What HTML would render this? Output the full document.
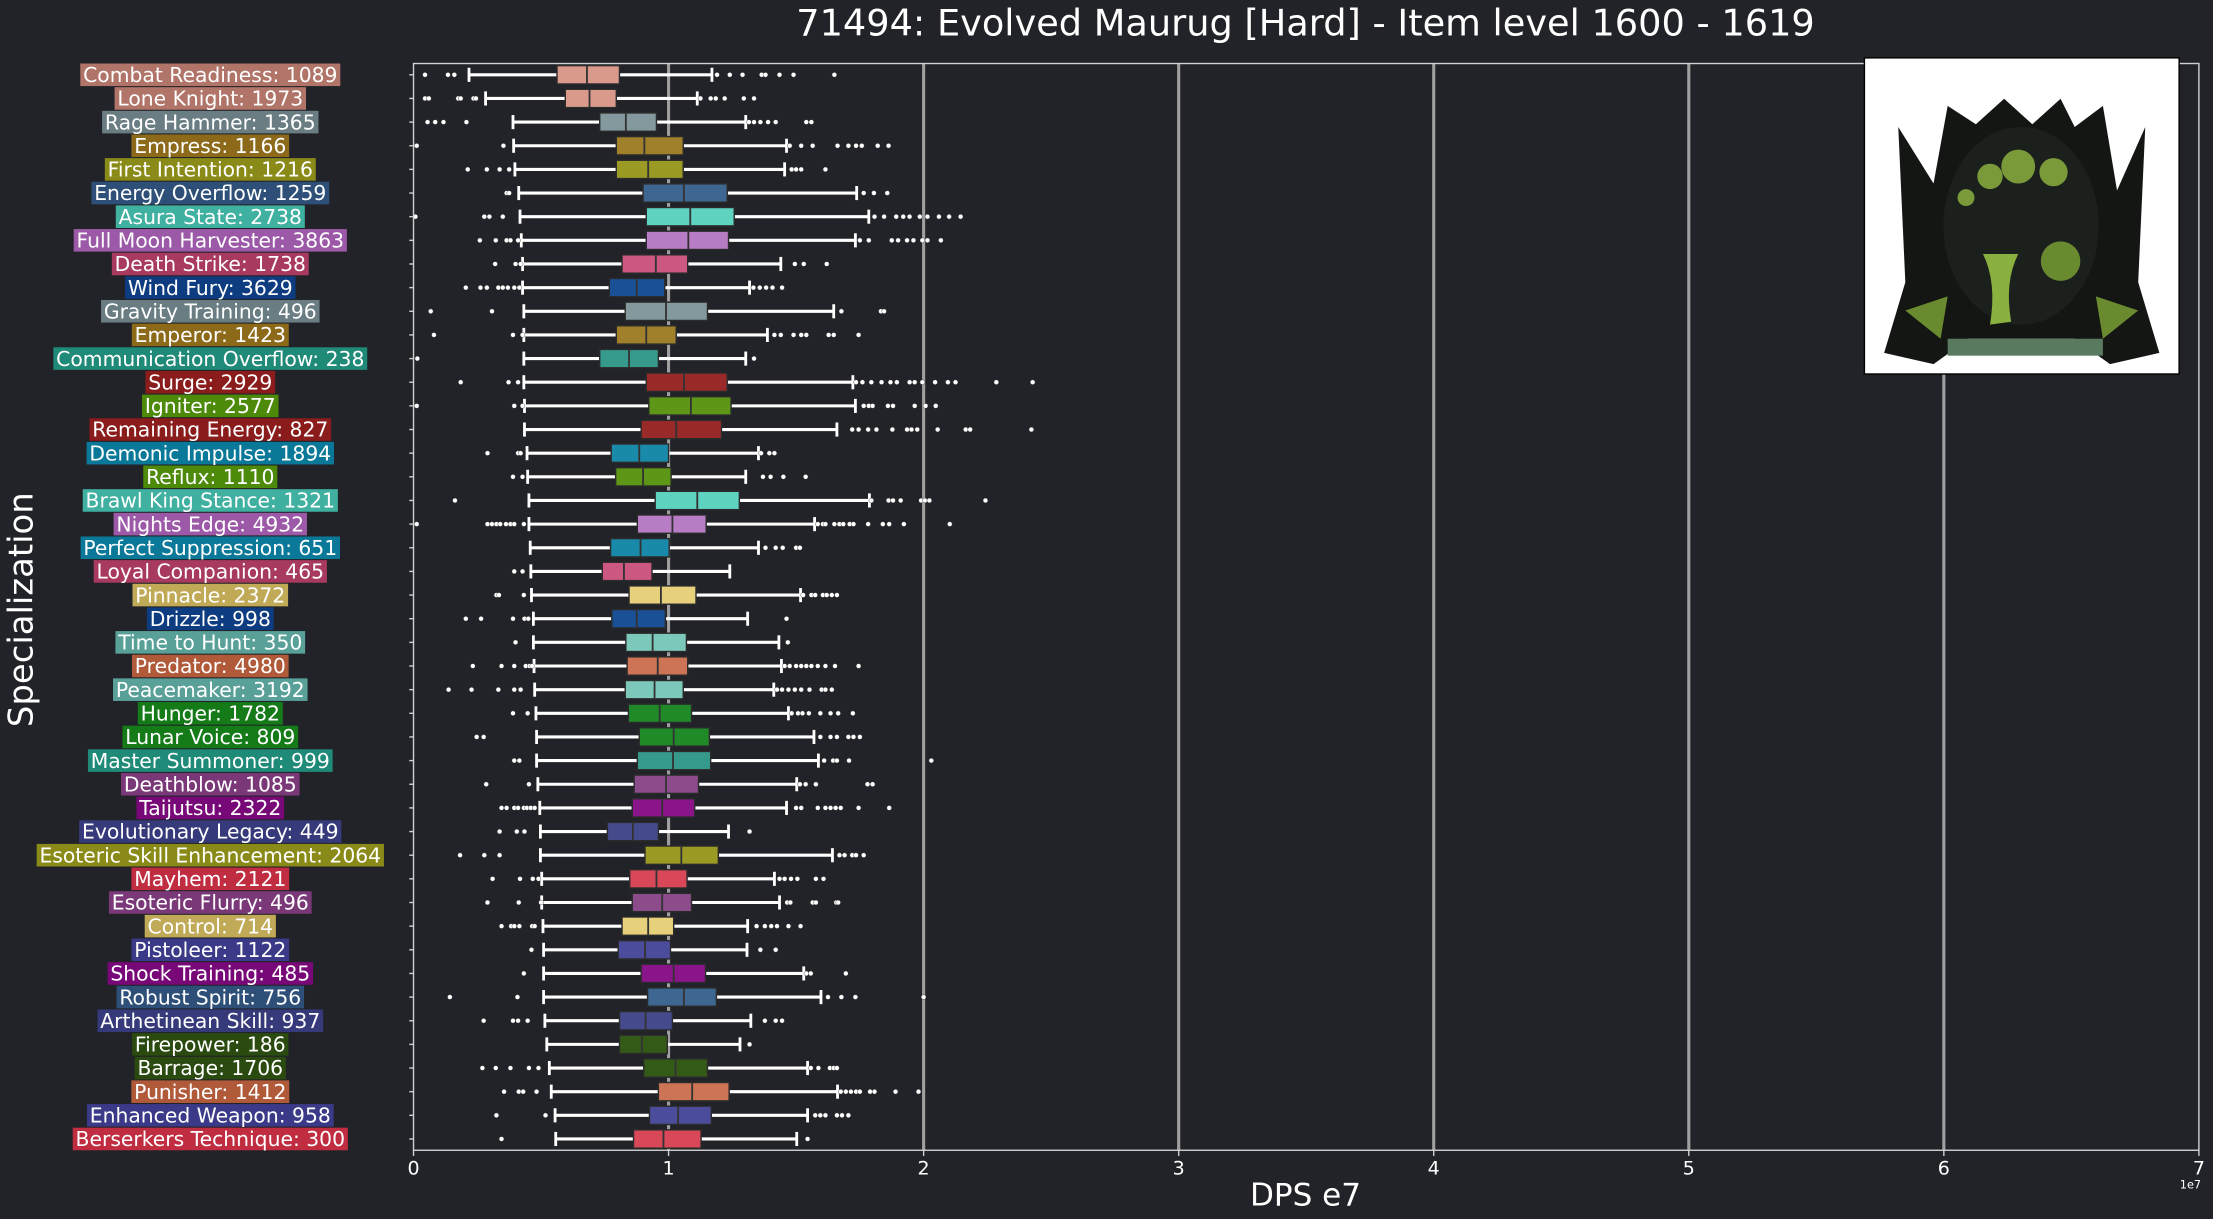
<!DOCTYPE html>
<html><head><meta charset="utf-8"><style>
html,body{margin:0;padding:0;background:#212328;}
svg{display:block}
</style></head><body>
<svg id="chart" width="2213" height="1219" viewBox="0 0 1568 863.7" preserveAspectRatio="none" xmlns="http://www.w3.org/2000/svg" font-family="'DejaVu Sans','Liberation Sans',sans-serif">
<rect x="0" y="0" width="1568" height="863.7" fill="#212328"/>
<text x="925" y="25" font-size="26" fill="#ffffff" text-anchor="middle">71494: Evolved Maurug [Hard] - Item level 1600 - 1619</text>
<g id="grid"></g>
<g id="boxes"></g>
<rect x="293" y="45" width="1265" height="770" fill="none" stroke="#d0d0d0" stroke-width="1"/>
<g id="xticks"></g>
<g id="labels"></g>
<text x="1552" y="842" font-size="8" fill="#ffffff" text-anchor="middle">1e7</text>
<text x="925" y="854" font-size="22" fill="#ffffff" text-anchor="middle">DPS e7</text>
<text x="0" y="0" font-size="24" fill="#ffffff" text-anchor="middle" transform="translate(23,432) rotate(-90)">Specialization</text>
<g>
<rect x="1321" y="41" width="223" height="224" fill="#ffffff" stroke="#000" stroke-width="1"/>
<path d="M1345 90 L1350 200 L1335 250 L1370 258 L1395 240 L1470 240 L1495 258 L1530 250 L1515 200 L1520 90 L1500 135 L1490 75 L1470 90 L1460 70 L1440 88 L1420 70 L1400 88 L1380 75 L1370 130 Z" fill="#141614"/>
<ellipse cx="1432" cy="160" rx="55" ry="70" fill="#1c201c"/>
<circle cx="1430" cy="118" r="12" fill="#7a9a3a"/><circle cx="1455" cy="122" r="10" fill="#7a9a3a"/><circle cx="1410" cy="125" r="9" fill="#7a9a3a"/><circle cx="1460" cy="185" r="14" fill="#6a8a30"/><circle cx="1393" cy="140" r="6" fill="#7a9a3a"/>
<path d="M1405 180 Q1415 200 1410 230 L1425 228 Q1420 200 1430 180 Z" fill="#8ab040"/>
<path d="M1350 220 L1380 210 L1375 240 Z M1515 220 L1485 210 L1490 240 Z" fill="#6a8a30"/>
<rect x="1380" y="240" width="110" height="12" fill="#5a7a60"/>
</g>
</svg>
<script>
const names = ["Combat Readiness","Lone Knight","Rage Hammer","Empress","First Intention","Energy Overflow","Asura State","Full Moon Harvester","Death Strike","Wind Fury","Gravity Training","Emperor","Communication Overflow","Surge","Igniter","Remaining Energy","Demonic Impulse","Reflux","Brawl King Stance","Nights Edge","Perfect Suppression","Loyal Companion","Pinnacle","Drizzle","Time to Hunt","Predator","Peacemaker","Hunger","Lunar Voice","Master Summoner","Deathblow","Taijutsu","Evolutionary Legacy","Esoteric Skill Enhancement","Mayhem","Esoteric Flurry","Control","Pistoleer","Shock Training","Robust Spirit","Arthetinean Skill","Firepower","Barrage","Punisher","Enhanced Weapon","Berserkers Technique"];
const counts = [1089,1973,1365,1166,1216,1259,2738,3863,1738,3629,496,1423,238,2929,2577,827,1894,1110,1321,4932,651,465,2372,998,350,4980,3192,1782,809,999,1085,2322,449,2064,2121,496,714,1122,485,756,937,186,1706,1412,958,300];
const whiskerLow = [0.2175,0.2825,0.39,0.3925,0.3975,0.4125,0.4175,0.4225,0.4275,0.4275,0.4325,0.4325,0.4325,0.4325,0.435,0.435,0.445,0.4475,0.4525,0.4525,0.4575,0.46,0.4625,0.47,0.47,0.4725,0.475,0.48,0.4825,0.4825,0.4875,0.495,0.4975,0.4975,0.5025,0.5025,0.5075,0.51,0.51,0.51,0.515,0.5225,0.5325,0.54,0.555,0.5575];
const q1 = [0.5625,0.595,0.73,0.795,0.795,0.9,0.9125,0.9125,0.8175,0.7675,0.83,0.795,0.73,0.9125,0.9225,0.8925,0.775,0.7925,0.9475,0.8775,0.7725,0.74,0.845,0.7775,0.8325,0.8375,0.83,0.8425,0.885,0.8775,0.865,0.8575,0.76,0.9075,0.8475,0.8575,0.8175,0.8025,0.8925,0.9175,0.8075,0.8075,0.9025,0.96,0.925,0.8625];
const medians = [0.68,0.69,0.8325,0.905,0.92,1.06,1.085,1.0775,0.95,0.875,0.99,0.9125,0.845,1.06,1.0875,1.03,0.885,0.9,1.1125,1.015,0.89,0.825,0.97,0.875,0.9375,0.9575,0.945,0.965,1.02,1.0175,0.99,0.975,0.86,1.05,0.9525,0.975,0.92,0.9075,1.02,1.06,0.91,0.895,1.0275,1.0925,1.0375,0.98];
const q3 = [0.8075,0.795,0.9525,1.0575,1.0575,1.23,1.2575,1.235,1.075,0.985,1.1525,1.03,0.96,1.23,1.245,1.2075,1.0,1.01,1.2775,1.1475,1.0025,0.935,1.1075,0.9875,1.07,1.075,1.0575,1.09,1.16,1.165,1.1175,1.1025,0.96,1.195,1.0725,1.09,1.02,1.0075,1.145,1.1875,1.015,0.995,1.1525,1.2375,1.1675,1.1275];
const whiskerHigh = [1.17,1.1125,1.3025,1.4625,1.455,1.7375,1.785,1.7325,1.44,1.3175,1.6475,1.3875,1.3025,1.7225,1.7325,1.66,1.3525,1.3025,1.7875,1.5725,1.3525,1.24,1.5175,1.31,1.4325,1.4425,1.4125,1.47,1.57,1.5875,1.5025,1.4625,1.235,1.6425,1.415,1.435,1.31,1.3075,1.53,1.5975,1.3225,1.28,1.545,1.6625,1.545,1.5025];
const outliers = [
[0.045,0.135,0.16,1.19,1.24,1.29,1.365,1.38,1.435,1.49,1.65],
[0.045,0.06,0.175,0.185,0.235,0.245,1.125,1.165,1.185,1.22,1.295,1.335],
[0.055,0.085,0.1175,0.2075,1.315,1.335,1.36,1.39,1.42,1.54,1.56],
[0.0125,0.3525,1.475,1.52,1.565,1.6625,1.705,1.735,1.7575,1.82,1.8625],
[0.2125,0.2875,0.3375,0.375,1.4825,1.5,1.52,1.615],
[0.365,0.375,1.765,1.805,1.8575],
[0.0075,0.2775,0.2975,0.35,1.8075,1.845,1.8925,1.92,1.945,1.985,2.015,2.06,2.1,2.145],
[0.26,0.3225,0.365,0.38,0.41,1.75,1.785,1.875,1.9,1.935,1.96,1.995,2.015,2.0675],
[0.32,0.4,0.42,1.495,1.53,1.62],
[0.205,0.2625,0.2875,0.3325,0.35,0.37,0.395,0.415,1.3325,1.3575,1.3825,1.4075,1.445],
[0.0675,0.3075,1.6775,1.8325,1.845],
[0.08,0.39,0.4275,1.415,1.44,1.49,1.52,1.54,1.6275,1.6475,1.745],
[0.015,1.335],
[0.185,0.3725,0.41,1.735,1.76,1.795,1.835,1.87,1.895,1.945,1.965,1.995,2.045,2.095,2.125,2.285,2.4275],
[0.0125,0.395,0.4275,1.765,1.785,1.8,1.86,1.88,1.965,2.0075,2.0475],
[1.72,1.745,1.7825,1.815,1.8775,1.935,1.9525,1.975,2.055,2.165,2.1825,2.4225],
[0.29,0.41,0.42,1.3625,1.395,1.415],
[0.39,0.4275,1.37,1.4,1.45,1.5375],
[0.1625,1.795,1.8625,1.88,1.91,1.99,2.005,2.0225,2.2425],
[0.0125,0.29,0.3075,0.325,0.34,0.3625,0.38,0.395,0.4325,1.585,1.605,1.615,1.65,1.67,1.685,1.71,1.725,1.7825,1.84,1.865,1.9225,2.1025],
[1.38,1.42,1.4475,1.5,1.515],
[0.395,0.4275],
[0.325,0.335,0.4325,1.5275,1.56,1.575,1.605,1.62,1.64,1.66],
[0.205,0.265,0.39,0.435,0.45,1.4625],
[0.4,1.4675],
[0.2325,0.345,0.395,0.44,0.455,0.465,1.455,1.475,1.5,1.52,1.54,1.56,1.585,1.615,1.6525,1.745],
[0.1375,0.2275,0.3325,0.395,0.42,1.425,1.445,1.47,1.495,1.52,1.5525,1.6,1.615,1.64],
[0.39,0.4475,1.4825,1.5075,1.525,1.55,1.595,1.635,1.665,1.7225],
[0.2475,0.275,1.595,1.635,1.66,1.705,1.725,1.75],
[0.395,0.415,1.61,1.645,1.66,1.7075,2.03],
[0.285,0.4525,1.515,1.5375,1.5775,1.78,1.8],
[0.345,0.365,0.395,0.41,0.4325,0.445,0.46,0.475,1.5,1.52,1.585,1.615,1.635,1.655,1.675,1.745,1.865],
[0.3375,0.405,0.435,1.3175],
[0.1825,0.2775,0.3375,1.67,1.69,1.72,1.735,1.765],
[0.31,0.4175,0.4675,0.49,1.435,1.455,1.48,1.505,1.5775,1.6075],
[0.29,0.4125,0.5,1.465,1.4775,1.565,1.5775,1.6575,1.665],
[0.345,0.3825,0.395,0.415,0.465,0.475,1.345,1.3775,1.4025,1.425,1.47,1.5175],
[0.4625,1.36,1.42],
[0.4325,1.54,1.5575,1.695],
[0.1425,0.4075,1.625,1.6775,1.7325,2.0],
[0.275,0.39,0.41,0.4475,1.3775,1.42,1.445],
[1.3175],
[0.27,0.3225,0.38,0.4525,0.49,1.5575,1.5875,1.6325,1.6475,1.66],
[0.355,0.4125,0.43,0.4825,1.675,1.695,1.715,1.735,1.75,1.79,1.8075,1.89,1.98],
[0.325,0.5175,1.575,1.595,1.615,1.66,1.68,1.705],
[0.345,1.545]
];
const labelColors = ["#b07468","#b07468","#6a7d82","#8c6a1a","#8a8a18","#2d4f78","#40b0a0","#9b59a8","#a83a60","#0e3c80","#6a7d82","#8c6a1a","#208a78","#8a1c1c","#4e8a0a","#8a1c1c","#0a7898","#4e8a0a","#40b0a0","#9b59a8","#0a7898","#a83a60","#c0aa58","#0e3c80","#58a098","#b05a3a","#58a098","#157a18","#157a18","#208a78","#7a3878","#780878","#363a7a","#8a8a18","#c02c40","#7a3878","#c0aa58","#3a3a88","#780878","#2d4f78","#363a7a","#2a4a10","#2a4a10","#b05a3a","#3a3a88","#c02c40"];
const boxColors = ["#d99a8c","#d99a8c","#83999e","#a0802a","#9a9a25","#3d6690","#5dd3c0","#b87cc4","#cc5780","#1a5096","#83999e","#a0802a","#359a8c","#9a2a2a","#5e9618","#9a2a2a","#1a8aab","#5e9618","#5dd3c0","#b87cc4","#1a8aab","#cc5780","#e6d07c","#1a5096","#7cc8ba","#cc7455","#7cc8ba","#208a28","#208a28","#359a8c","#8c4c8c","#8a148a","#454a8c","#9a9a25","#d84858","#8c4c8c","#e6d07c","#4c4c9c","#8a148a","#3d6690","#454a8c","#345a18","#345a18","#cc7455","#4c4c9c","#d84858"];
const xTicks = [0,1,2,3,4,5,6,7];

const NS = "http://www.w3.org/2000/svg";
const X0 = 293, X1 = 1558, XMAX = 7;
const xScale = v => X0 + (v / XMAX) * (X1 - X0);
const Y0 = 53, ROWH = (807 - 53) / 45;
const yScale = i => Y0 + i * ROWH;
function mk(tag, attrs, parent) {
  const e = document.createElementNS(NS, tag);
  for (const k in attrs) e.setAttribute(k, attrs[k]);
  parent.appendChild(e);
  return e;
}
const grid = document.getElementById('grid');
const xt = document.getElementById('xticks');
xTicks.forEach(t => {
  const x = xScale(t);
  if (t > 0 && t < XMAX) {
    const g = mk('line', {x1: x, x2: x, y1: 45, y2: 815, stroke: '#a0a0a0', 'stroke-width': 2.2}, grid);
    
    
  }
  const tk = mk('line', {x1: x, x2: x, y1: 815, y2: 819, stroke: '#d0d0d0', 'stroke-width': 1}, xt);
  
  
  const lb = mk('text', {x: x, y: 832, 'font-size': 13.5, fill: '#ffffff', 'text-anchor': 'middle'}, xt);
  lb.textContent = t;
  
  
});
const boxes = document.getElementById('boxes');
const labels = document.getElementById('labels');
const BH = 13, CAP = 10;
names.forEach((n, i) => {
  const y = yScale(i);
  const g = mk('g', {}, boxes);
  
  
  const tick = mk('line', {x1: 290, x2: 293, y1: y, y2: y, stroke: '#d0d0d0', 'stroke-width': 1}, g);
  
  
  const wl = mk('line', {x1: xScale(whiskerLow[i]), x2: xScale(q1[i]), y1: y, y2: y, stroke: '#fff', 'stroke-width': 2.2}, g);
  
  
  const wh = mk('line', {x1: xScale(q3[i]), x2: xScale(whiskerHigh[i]), y1: y, y2: y, stroke: '#fff', 'stroke-width': 2.2}, g);
  
  
  [whiskerLow[i], whiskerHigh[i]].forEach(v => {
    const c = mk('line', {x1: xScale(v), x2: xScale(v), y1: y - CAP / 2, y2: y + CAP / 2, stroke: '#fff', 'stroke-width': 2}, g);
    
    
  });
  const r = mk('rect', {x: xScale(q1[i]), y: y - BH / 2, width: xScale(q3[i]) - xScale(q1[i]), height: BH, fill: boxColors[i], stroke: '#2b2b2b', 'stroke-width': 1}, g);
  
  
  const m = mk('line', {x1: xScale(medians[i]), x2: xScale(medians[i]), y1: y - BH / 2, y2: y + BH / 2, stroke: '#333', 'stroke-width': 1.3}, g);
  
  
  outliers[i].forEach(v => {
    const o = mk('circle', {cx: xScale(v), cy: y, r: 1.7, fill: '#ffffff', stroke: '#333', 'stroke-width': 0.3}, g);
    
    
  });
  const lg = mk('g', {}, labels);
  
  
  const bg = mk('rect', {fill: labelColors[i]}, lg);
  
  
  const t = mk('text', {x: 149, y: y + 5.1, 'font-size': 14.4, fill: '#ffffff', 'text-anchor': 'middle'}, lg);
  t.textContent = n + ': ' + counts[i];
  
  
  const w = t.getComputedTextLength();
  bg.setAttribute('x', 149 - w / 2 - 2);
  bg.setAttribute('y', y - 8);
  bg.setAttribute('width', w + 4);
  bg.setAttribute('height', 16);
});
</script>
</body></html>
